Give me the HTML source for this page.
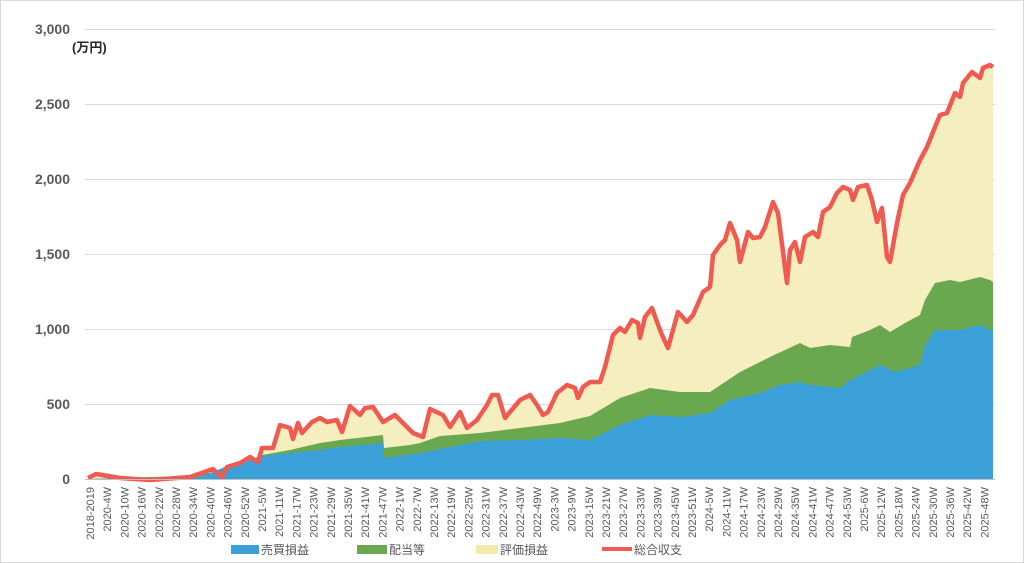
<!DOCTYPE html>
<html><head><meta charset="utf-8"><style>
body{margin:0;background:#fff;}
svg{display:block;font-family:"Liberation Sans","Noto Sans CJK JP",sans-serif;}
</style></head><body>
<svg id="s" width="1024" height="563" xmlns="http://www.w3.org/2000/svg">
<rect x="0.5" y="0.5" width="1023" height="562" fill="#fff" stroke="#d9d9d9"/>
<g stroke="#d9d9d9" stroke-width="1">
<line x1="85" x2="995" y1="29.5" y2="29.5"/><line x1="85" x2="995" y1="104.5" y2="104.5"/>
<line x1="85" x2="995" y1="179.5" y2="179.5"/><line x1="85" x2="995" y1="254.5" y2="254.5"/>
<line x1="85" x2="995" y1="329.5" y2="329.5"/><line x1="85" x2="995" y1="404.5" y2="404.5"/>
</g>
<g font-size="14" font-weight="bold" fill="#595959" text-anchor="end">
<text x="70" y="34">3,000</text><text x="70" y="109">2,500</text><text x="70" y="184">2,000</text>
<text x="70" y="259">1,500</text><text x="70" y="334">1,000</text><text x="70" y="409">500</text><text x="70" y="484">0</text>
</g>
<text x="72" y="52" font-size="13" font-weight="bold" fill="#262626">(万円)</text>
<g id="plot"></g>
<line x1="85" x2="995" y1="479.5" y2="479.5" stroke="#bfbfbf"/>
<g id="xl" font-size="11" fill="#595959" text-anchor="end"></g>
<g font-size="12" fill="#595959">
<rect x="231" y="545" width="28" height="9" fill="#3b9fd8"/><text x="261" y="554">売買損益</text>
<rect x="357" y="545" width="30" height="9" fill="#6aa84f"/><text x="389" y="554">配当等</text>
<rect x="476" y="545" width="22" height="9" fill="#f3e9a8"/><text x="500" y="554">評価損益</text>
<line x1="602" x2="632" y1="549" y2="549" stroke="#f05a50" stroke-width="4"/><text x="634" y="554">総合収支</text>
</g>
</svg>
<script>
var red=[88,478,96,474,120,478,150,480,190,477,213,469,222,477,227,467,240,463,250,457,258,462,262,448,273,448,280,425,290,428,293,439,298,423,302,433,312,422,320,418,327,422,337,420,342,432,350,406,360,415,365,408,373,407,383,422,395,415,402,422,413,433,423,437,430,409,443,415,450,427,460,412,467,428,477,420,487,405,492,395,498,395,505,418,510,412,520,400,530,395,537,405,543,415,548,412,557,393,567,385,575,388,578,398,583,387,590,382,600,382,605,367,613,335,620,328,625,332,632,320,638,323,640,338,645,317,652,308,657,322,662,335,668,348,678,312,687,322,693,315,703,292,710,287,713,255,720,245,725,240,730,223,737,240,740,262,748,232,753,238,760,237,765,227,773,202,778,213,787,283,790,250,795,242,800,262,805,237,813,232,818,237,823,212,830,207,837,193,843,187,850,190,853,200,858,187,867,185,872,200,877,222,882,208,887,257,890,262,897,223,903,195,910,183,920,160,927,147,935,127,940,115,947,113,955,93,960,97,963,83,972,72,980,78,983,68,990,65,993,67];
var green=[88,479,150,477,190,476,230,470,262,455,290,450,320,443,340,440,383,435,384,448,410,445,420,443,440,436,480,433,520,428,560,423,590,416,620,398,650,388,680,392,710,392,740,372,770,357,800,343,810,348,830,345,850,347,852,337,870,330,880,325,890,332,905,323,920,315,925,300,935,283,950,280,960,282,980,277,990,280,993,282];
var blue=[88,479,200,477,230,465,262,456,290,453,320,450,340,447,383,443,384,458,420,453,480,441,520,440,560,438,590,440,620,425,650,415,680,417,710,413,730,400,760,393,780,385,800,382,810,385,840,388,850,380,870,370,880,365,895,372,920,365,925,345,935,330,960,330,980,325,990,330,993,330];
function pts(a){var s=[];for(var i=0;i<a.length;i+=2)s.push(a[i]+','+a[i+1]);return s.join(' ');}
function area(a){return pts(a)+' '+a[a.length-2]+',479 '+a[0]+',479';}
var ns='http://www.w3.org/2000/svg',p=document.getElementById('plot');
function add(tag,at){var e=document.createElementNS(ns,tag);for(var k in at)e.setAttribute(k,at[k]);p.appendChild(e);}
add('polygon',{points:area(red),fill:'#f5efc0'});
add('polygon',{points:area(green),fill:'#6aa84f'});
add('polygon',{points:area(blue),fill:'#3b9fd8'});
add('polyline',{points:pts(red),fill:'none',stroke:'#f05a50','stroke-width':4.5,'stroke-linejoin':'round'});
var labs=['2018-2019'];var y=2020,w=4;
while(labs.length<53){labs.push(y+'-'+w+'W');w+=6;var max=(y==2020||y==2024)?53:52;if(w>max){w-=max;y++;}}
var xl=document.getElementById('xl');
for(var i=0;i<53;i++){var x=94+i*17.2;var t=document.createElementNS(ns,'text');t.setAttribute('transform','translate('+x.toFixed(1)+',487) rotate(-90)');t.textContent=labs[i];xl.appendChild(t);}
</script>
</body></html>
